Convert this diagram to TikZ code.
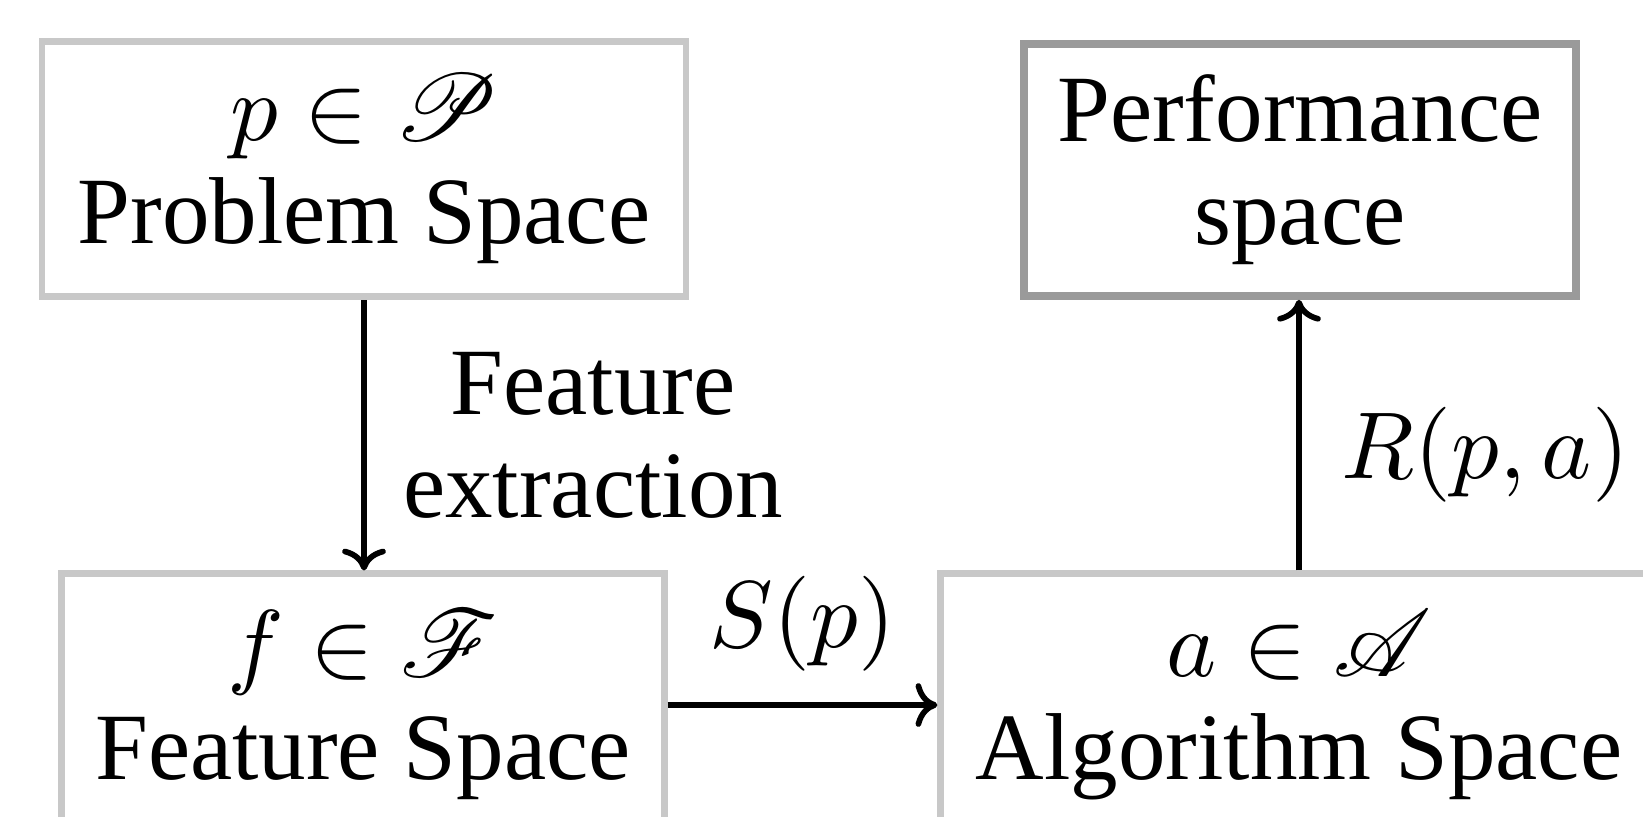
\documentclass[tikz,border=0pt]{standalone}
\usepackage[no-math]{fontspec}
\setmainfont{Liberation Serif}
\usepackage{mathrsfs}
\usetikzlibrary{arrows.meta,positioning}
\definecolor{boxgray}{HTML}{C8C8C8}
\definecolor{perfgray}{HTML}{9A9A9A}
\tikzset{
  spacebox/.style={
    rectangle, draw=boxgray, line width=0.72pt,
    fill=white, font=\fontsize{10}{10.85}\selectfont,
    align=center, inner sep=0pt
  },
  lbl/.style={
    font=\fontsize{10}{10.85}\selectfont,
    align=center, inner sep=0pt
  },
  arr/.style={-{Computer Modern Rightarrow[length=2.3pt,width=4.6pt,line width=0.6pt]}, line width=0.64pt},
}
\begin{document}
\begin{tikzpicture}[x=0.10526pt, y=-0.10526pt]
  \useasboundingbox (0,0) rectangle (1643,816);

  \node[spacebox, minimum width=67.8pt, minimum height=26.9pt]
    (prob) at (364,169) {$p \in \mathscr{P}$\\Problem Space};

  \node[spacebox, draw=perfgray, line width=0.82pt,
        minimum width=58.1pt, minimum height=26.5pt]
    (perf) at (1300,170) {Performance\\space};

  \node[spacebox, minimum width=63.4pt, minimum height=27.6pt]
    (feat) at (363,705) {$f \in \mathscr{F}$\\Feature Space};

  \node[spacebox, minimum width=75.4pt, minimum height=27.6pt]
    (alg) at (1299,705) {$a \in \mathscr{A}$\\Algorithm Space};

  % Arrows
  \draw[arr] (prob.south) -- (prob.south |- feat.north)
    node[lbl, midway, right=3.8pt] {Feature\\extraction};
  \draw[arr] (feat.east) -- (alg.west)
    node[lbl, midway, above=3.2pt] {$S(p)$};
  \draw[arr] (alg.north) -- (alg.north |- perf.south)
    node[lbl, midway, right=4.2pt, yshift=-2.1pt] {$R(p,a)$};

\end{tikzpicture}
\end{document}
